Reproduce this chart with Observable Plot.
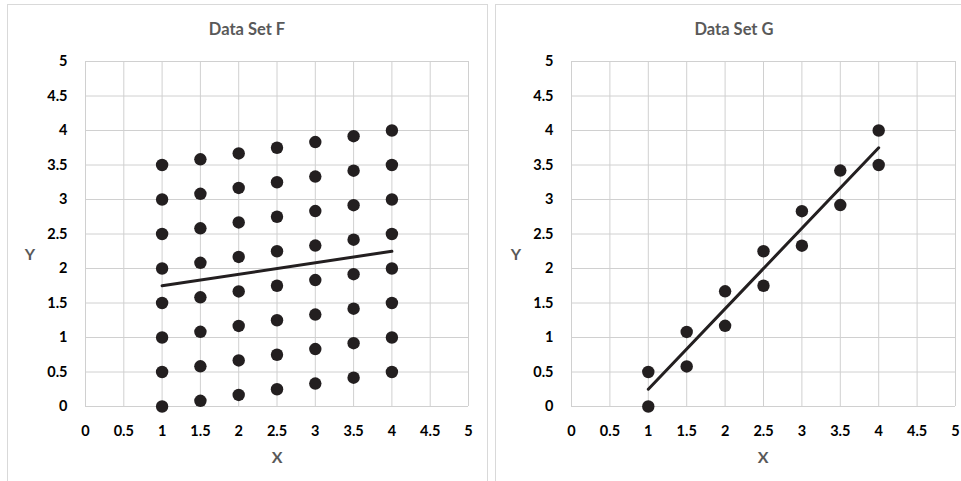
<!DOCTYPE html>
<html>
<head>
<meta charset="utf-8">
<script src="https://cdn.jsdelivr.net/npm/d3@7"></script>
<script src="https://cdn.jsdelivr.net/npm/@observablehq/plot@0.6"></script>
<style>
  body { margin: 0; background: #fff; width: 961px; height: 481px; overflow: hidden; position: relative; font-family: Lato, "Open Sans", sans-serif; }
  .panel { position: absolute; border: 1px solid #d9d9d9; box-sizing: border-box; }
  .chart { position: absolute; top: 0; }
  .title { position: absolute; font-weight: bold; font-size: 16.5px; color: #595959; transform: translate(-50%, -50%); white-space: nowrap; }
  .axlabel { position: absolute; font-weight: bold; font-size: 16px; color: #595959; transform: translate(-50%, -50%); }
</style>
</head>
<body>
<div class="panel" style="left:7px; top:4px; width:481px; height:500px;"></div>
<div class="panel" style="left:495px; top:4px; width:480px; height:500px;"></div>
<div id="left" class="chart" style="left:0px;"></div>
<div id="right" class="chart" style="left:480px;"></div>
<div class="title" style="left:247px; top:29px;">Data Set F</div>
<div class="title" style="left:734px; top:29px;">Data Set G</div>
<div class="axlabel" style="left:277px; top:456px;">X</div>
<div class="axlabel" style="left:763px; top:456px;">X</div>
<div class="axlabel" style="left:30px; top:253px;">Y</div>
<div class="axlabel" style="left:516px; top:253px;">Y</div>
<script>
// Tick labels
const tickValues = [0, 0.5, 1, 1.5, 2, 2.5, 3, 3.5, 4, 4.5, 5];

// Data Set F: x columns and y values per column
const fX = [1, 1.5, 2, 2.5, 3, 3.5, 4];
const fY = [
  [0, 0.5, 1, 1.5, 2, 2.5, 3, 3.5],
  [0.083, 0.583, 1.083, 1.583, 2.083, 2.583, 3.083, 3.583],
  [0.167, 0.667, 1.167, 1.667, 2.167, 2.667, 3.167, 3.667],
  [0.25, 0.75, 1.25, 1.75, 2.25, 2.75, 3.25, 3.75],
  [0.333, 0.833, 1.333, 1.833, 2.333, 2.833, 3.333, 3.833],
  [0.417, 0.917, 1.417, 1.917, 2.417, 2.917, 3.417, 3.917],
  [0.5, 1, 1.5, 2, 2.5, 3, 3.5, 4]
];
const fTrendX = [1, 4];
const fTrendY = [1.75, 2.25];

// Data Set G
const gX = [1, 1, 1.5, 1.5, 2, 2, 2.5, 2.5, 3, 3, 3.5, 3.5, 4, 4];
const gY = [0, 0.5, 0.58, 1.08, 1.17, 1.67, 1.75, 2.25, 2.33, 2.83, 2.92, 3.42, 3.5, 4];
const gTrendX = [1, 4];
const gTrendY = [0.25, 3.75];

const fPoints = fX.flatMap((x, i) => fY[i].map(y => ({x, y})));
const gPoints = gX.map((x, i) => ({x, y: gY[i]}));
const fTrend = fTrendX.map((x, i) => ({x, y: fTrendY[i]}));
const gTrend = gTrendX.map((x, i) => ({x, y: gTrendY[i]}));

function makeChart(points, trend, width, mLeft, mRight) {
  return Plot.plot({
    width, height: 481,
    marginLeft: mLeft, marginRight: mRight, marginTop: 61, marginBottom: 75,
    style: { fontFamily: "Lato, 'Open Sans', sans-serif", fontSize: "14.5px", fontWeight: "bold", color: "#000", background: "transparent", overflow: "visible" },
    x: { domain: [0, 5], ticks: tickValues, tickFormat: d => String(d), label: null, tickSize: 0, tickPadding: 19 },
    y: { domain: [0, 5], ticks: tickValues, tickFormat: d => String(d), label: null, tickSize: 0, tickPadding: 18 },
    marks: [
      Plot.gridX(tickValues, { stroke: "#d0d0d0", strokeOpacity: 1, strokeWidth: 1 }),
      Plot.gridY(tickValues, { stroke: "#d0d0d0", strokeOpacity: 1, strokeWidth: 1 }),
      Plot.dot(points, { x: "x", y: "y", r: 6.2, fill: "#231f20", stroke: "none" }),
      Plot.line(trend, { x: "x", y: "y", stroke: "#231f20", strokeWidth: 3 })
    ]
  });
}

document.getElementById("left").appendChild(makeChart(fPoints, fTrend, 480, 85, 12));
document.getElementById("right").appendChild(makeChart(gPoints, gTrend, 481, 91, 6));
</script>
</body>
</html>
